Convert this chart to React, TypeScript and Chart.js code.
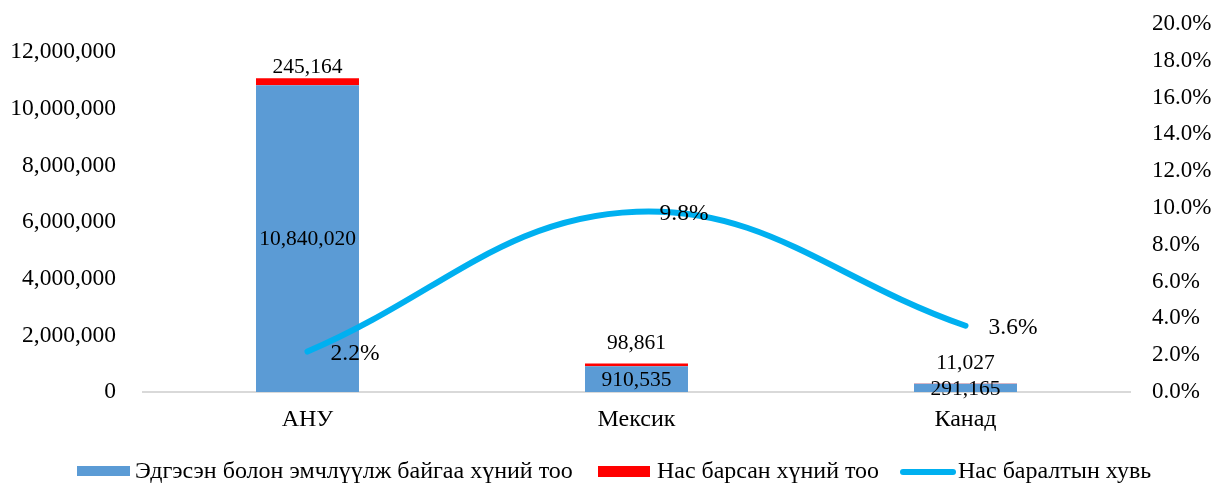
import React, { useEffect, useRef } from 'react';
import { Chart, registerables } from 'chart.js';

Chart.register(...registerables);

const categories = ['АНУ', 'Мексик', 'Канад'];
const recovered = [10840020, 910535, 291165];
const deaths = [245164, 98861, 11027];
const deathRate = [2.2, 9.8, 3.6];
const leftTicks = [0, 2000000, 4000000, 6000000, 8000000, 10000000, 12000000];
const rightTicks = [0, 2, 4, 6, 8, 10, 12, 14, 16, 18, 20];
const legendLabels = [
  'Эдгэсэн болон эмчлүүлж байгаа хүний тоо',
  'Нас барсан хүний тоо',
  'Нас баралтын хувь',
];

const BLUE = '#5B9BD5';
const RED = '#FF0000';
const CYAN = '#00B0F0';
const FONT = "'Liberation Serif', 'Times New Roman', serif";
const redLabelOffsets = [11, 20, 20];

const fmt = (v: number) => Math.round(v).toLocaleString('en-US');

export default function App() {
  const ref = useRef<HTMLCanvasElement>(null);

  useEffect(() => {
    document.body.style.margin = '0';
    const canvas = ref.current;
    if (!canvas) return;

    const labelPlugin = {
      id: 'customLabels',
      afterDatasetsDraw(chart: any) {
        const c = chart.ctx;
        c.save();
        c.font = `21.5px ${FONT}`;
        c.fillStyle = '#000';
        c.textAlign = 'center';
        c.textBaseline = 'middle';
        const m0 = chart.getDatasetMeta(0);
        m0.data.forEach((el: any, i: number) => {
          const p = el.getProps(['x', 'y', 'base'], true);
          c.fillText(fmt(recovered[i]), p.x, (p.y + p.base) / 2 + 1);
        });
        const m1 = chart.getDatasetMeta(1);
        m1.data.forEach((el: any, i: number) => {
          const p = el.getProps(['x', 'y'], true);
          c.fillText(fmt(deaths[i]), p.x, p.y - redLabelOffsets[i]);
        });
        const m2 = chart.getDatasetMeta(2);
        c.font = `23.5px ${FONT}`;
        c.textAlign = 'left';
        m2.data.forEach((el: any, i: number) => {
          const p = el.getProps(['x', 'y'], true);
          c.fillText(deathRate[i].toFixed(1) + '%', p.x + 23, p.y + 2);
        });
        c.restore();
      },
      afterDraw(chart: any) {
        const c = chart.ctx;
        c.save();
        const cy = 472;
        c.fillStyle = BLUE;
        c.fillRect(77, 466, 53, 10);
        c.fillStyle = RED;
        c.fillRect(598, 466, 52, 11);
        c.strokeStyle = CYAN;
        c.lineWidth = 6;
        c.lineCap = 'round';
        c.beginPath();
        c.moveTo(903, cy);
        c.lineTo(953, cy);
        c.stroke();
        c.font = `24px ${FONT}`;
        c.fillStyle = '#000';
        c.textAlign = 'left';
        c.textBaseline = 'middle';
        c.fillText(legendLabels[0], 135, cy, 442);
        c.fillText(legendLabels[1], 657, cy, 222);
        c.fillText(legendLabels[2], 958, cy, 196);
        c.restore();
      },
    };

    const chart = new Chart(canvas, {
      type: 'bar',
      data: {
        labels: categories,
        datasets: [
          {
            type: 'bar',
            label: legendLabels[0],
            data: recovered,
            backgroundColor: BLUE,
            stack: 's',
            order: 1,
            yAxisID: 'y',
            categoryPercentage: 1,
            barPercentage: 0.313,
          },
          {
            type: 'bar',
            label: legendLabels[1],
            data: deaths,
            backgroundColor: RED,
            stack: 's',
            order: 1,
            yAxisID: 'y',
            categoryPercentage: 1,
            barPercentage: 0.313,
          },
          {
            type: 'line',
            label: legendLabels[2],
            data: deathRate,
            borderColor: CYAN,
            backgroundColor: CYAN,
            borderWidth: 6,
            borderCapStyle: 'round',
            tension: 0.4,
            pointRadius: 0,
            pointHoverRadius: 0,
            fill: false,
            yAxisID: 'y1',
            order: 0,
          },
        ] as any,
      },
      options: {
        responsive: false,
        animation: false,
        layout: { padding: { top: 24, left: 0, right: 0, bottom: 0 } },
        plugins: {
          legend: { display: false },
          tooltip: { enabled: false },
        },
        scales: {
          x: {
            stacked: true,
            grid: { display: false, drawTicks: false, tickLength: 0 },
            border: { display: true, color: '#D9D9D9', width: 2 },
            ticks: { padding: 13, font: { family: FONT, size: 24 }, color: '#000' },
            afterFit: (s: any) => {
              s.height = 93;
              s.paddingLeft = 0;
              s.paddingRight = 0;
            },
          },
          y: {
            stacked: true,
            position: 'left',
            min: 0,
            max: 13000000,
            grid: { display: false, drawTicks: false, tickLength: 0 },
            border: { display: false },
            ticks: {
              padding: 27,
              font: { family: FONT, size: 23.5 },
              color: '#000',
              callback: (v: any) => fmt(Number(v)),
            },
            afterBuildTicks: (s: any) => {
              s.ticks = leftTicks.map((v) => ({ value: v }));
            },
            afterFit: (s: any) => {
              s.width = 143;
              s.paddingTop = 0;
              s.paddingBottom = 0;
            },
          },
          y1: {
            position: 'right',
            min: 0,
            max: 20,
            grid: { display: false, drawTicks: false, tickLength: 0 },
            border: { display: false },
            ticks: {
              padding: 22,
              font: { family: FONT, size: 23 },
              color: '#000',
              callback: (v: any) => Number(v).toFixed(1) + '%',
            },
            afterBuildTicks: (s: any) => {
              s.ticks = rightTicks.map((v) => ({ value: v }));
            },
            afterFit: (s: any) => {
              s.width = 83;
              s.paddingTop = 0;
              s.paddingBottom = 0;
            },
          },
        },
      } as any,
      plugins: [labelPlugin],
    });

    return () => chart.destroy();
  }, []);

  return <canvas ref={ref} width={1213} height={485} style={{ display: 'block' }} />;
}
